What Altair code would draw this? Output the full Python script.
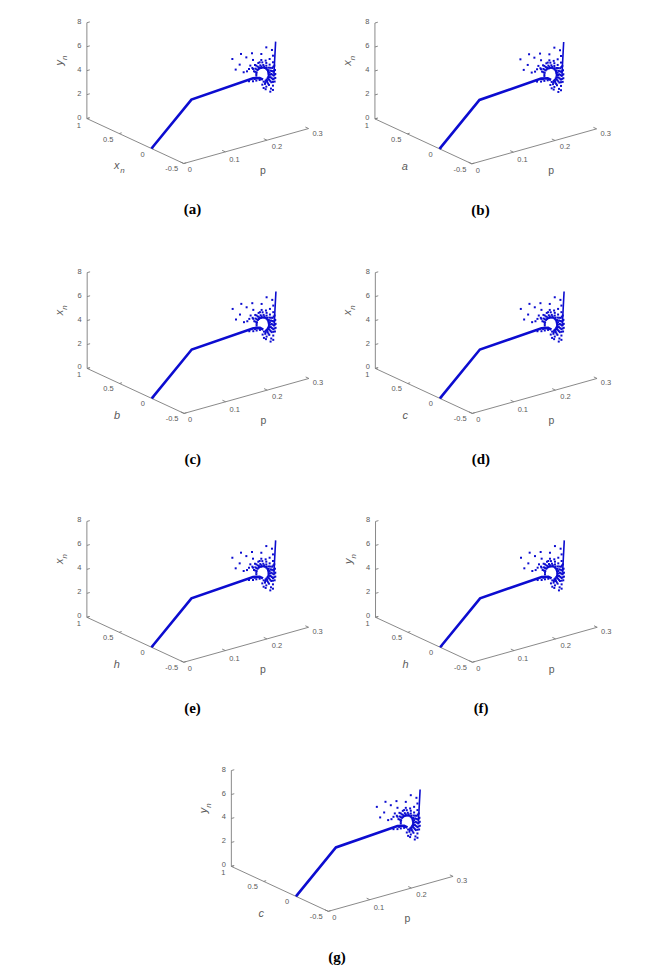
import altair as alt
import pandas as pd

# Trajectory and fixed-branch values (x-axis value 0)
TRAJ_P = [0.0, 0.096, 0.244, 0.26, 0.268]
TRAJ_Y = [0.0, 3.15, 3.49, 3.36, 3.14]
BRANCH_P = [0.2984, 0.296, 0.2944]
BRANCH_Y = [6.02, 4.46, 3.36]

DOT_P = [0.1944, 0.2152, 0.2416, 0.276, 0.2896, 0.212, 0.2024, 0.228, 0.264, 0.244, 0.2376, 0.2216, 0.2296,
         0.264, 0.284, 0.26, 0.252, 0.2744, 0.292, 0.2344, 0.244,
         0.252, 0.252, 0.2528, 0.2552, 0.2576, 0.26, 0.2632, 0.2664, 0.2696, 0.2728, 0.276, 0.2784, 0.28,
         0.2808, 0.2816, 0.2816, 0.2808, 0.2792, 0.2768, 0.2744, 0.2696,
         0.2464, 0.2496, 0.2552, 0.2616, 0.2688, 0.276, 0.2824, 0.2864, 0.288, 0.2864, 0.2832, 0.2784, 0.2728,
         0.2424, 0.2488, 0.2568, 0.2664, 0.276, 0.284, 0.2904, 0.2928, 0.2936, 0.292, 0.288, 0.2824, 0.276,
         0.292, 0.2952, 0.2968, 0.2976, 0.2976, 0.296, 0.292, 0.2872, 0.292, 0.2856, 0.2744, 0.2696, 0.2664,
         0.244, 0.252, 0.26, 0.248, 0.2344,
         0.2496, 0.2524, 0.2584, 0.264, 0.2708, 0.2772, 0.2816, 0.284, 0.2848, 0.2836, 0.2812, 0.2776, 0.2736,
         0.2864, 0.2896, 0.2908, 0.2892, 0.2856, 0.2804,
         0.2928, 0.2948, 0.2956, 0.2948, 0.292]
DOT_Y = [5.58, 5.80, 5.60, 5.76, 5.41, 4.94, 4.62, 5.39, 5.32, 5.02, 4.61, 4.21, 4.21,
         4.82, 4.71, 4.67, 4.47, 4.67, 4.91, 4.36, 4.27,
         3.63, 3.77, 3.90, 4.07, 4.13, 4.17, 4.16, 4.16, 4.13, 4.07, 3.96, 3.85, 3.72,
         3.60, 3.48, 3.37, 3.24, 3.15, 3.06, 3.00, 2.96,
         4.05, 4.24, 4.35, 4.40, 4.36, 4.23, 4.00, 3.72, 3.42, 3.16, 2.97, 2.82, 2.74,
         4.37, 4.55, 4.64, 4.60, 4.46, 4.24, 3.90, 3.57, 3.23, 2.94, 2.73, 2.56, 2.48,
         4.36, 4.05, 3.67, 3.33, 3.00, 2.71, 2.41, 2.21, 2.05, 1.97, 2.28, 2.43, 2.74,
         3.24, 3.22, 3.19, 3.39, 3.33,
         3.97, 4.15, 4.26, 4.28, 4.21, 4.04, 3.80, 3.60, 3.39, 3.20, 3.06, 2.94, 2.87,
         3.95, 3.65, 3.33, 3.05, 2.85, 2.69,
         3.98, 3.62, 3.28, 2.97, 2.72]

Y_TICKS = [0, 2, 4, 6, 8]
X_TICKS = [1, 0.5, 0, -0.5]
P_TICKS = [0, 0.1, 0.2, 0.3]
X_TICK_TEXT = ["1", "0.5", "0", "-0.5"]
P_TICK_TEXT = ["0", "0.1", "0.2", "0.3"]

CAPTIONS = ["(a)", "(b)", "(c)", "(d)", "(e)", "(f)", "(g)"]
VERT_TITLES = ["y", "x", "x", "x", "x", "y", "y"]
DEPTH_TITLES = ["x", "a", "b", "c", "h", "h", "c"]
# position of the 3-D origin inside each panel
ORIGIN_U = [143.7, 110.2, 144.0, 110.6, 143.7, 110.8, 288.4]
ORIGIN_V = [140.0, 140.3, 140.3, 140.3, 139.5, 139.5, 139.0]

COL_W = 322
ROW_H = [250, 250, 250, 204]
BLUE = "#0c0cd0"
AXIS = "#7c7c7c"
TEXT = "#5a5a5a"


def proj(ou, ov, p, x, y):
    return (ou + 416.7 * p - 64.7 * x, ov - 116.7 * p - 30.0 * x - 12.0 * y)


def panel(n, w, h):
    ou, ov = ORIGIN_U[n], ORIGIN_V[n]
    U = alt.X("u:Q", scale=alt.Scale(domain=[0, w], nice=False, zero=False), axis=None)
    V = alt.Y("v:Q", scale=alt.Scale(domain=[h, 0], nice=False, zero=False), axis=None)

    def pts(triples, **extra):
        rows = []
        for i, (p, x, y) in enumerate(triples):
            u, v = proj(ou, ov, p, x, y)
            rows.append({"u": u, "v": v, "i": i, **extra})
        return rows

    seg = []
    seg += pts([(0, 1, 0), (0, 1, 8)], g="yaxis")
    seg += pts([(0, 1, 0), (0, -0.5, 0)], g="xaxis")
    seg += pts([(0, -0.5, 0), (0.3, -0.5, 0)], g="paxis")
    for t in Y_TICKS:
        seg += pts([(0, 1, t), (0.007, 1, t)], g=f"yt{t}")
    for t in X_TICKS:
        seg += pts([(0, t, 0), (0.006, t, 0)], g=f"xt{t}")
    for t in P_TICKS:
        seg += pts([(t, -0.5, 0), (t, -0.45, 0)], g=f"pt{t}")

    axes = alt.Chart(pd.DataFrame(seg)).mark_line(color=AXIS, strokeWidth=0.9).encode(
        x=U, y=V, detail="g:N", order="i:Q")

    traj = alt.Chart(pd.DataFrame(pts([(p, 0, y) for p, y in zip(TRAJ_P, TRAJ_Y)]))).mark_line(
        color=BLUE, strokeWidth=2.6).encode(x=U, y=V, order="i:Q")
    branch = alt.Chart(pd.DataFrame(pts([(p, 0, y) for p, y in zip(BRANCH_P, BRANCH_Y)]))).mark_line(
        color=BLUE, strokeWidth=1.6).encode(x=U, y=V, order="i:Q")
    dots = alt.Chart(pd.DataFrame(pts([(p, 0, y) for p, y in zip(DOT_P, DOT_Y)]))).mark_square(
        color=BLUE, size=4, opacity=1).encode(x=U, y=V)

    def label(p, x, y, text, ddx, ddy, size=7.5, color=TEXT, font="Liberation Sans", **kw):
        u, v = proj(ou, ov, p, x, y)
        df = pd.DataFrame([{"u": u, "v": v, "t": text}])
        return alt.Chart(df).mark_text(dx=ddx, dy=ddy, fontSize=size, color=color, font=font,
                                       align="center", baseline="middle", **kw).encode(
            x=U, y=V, text="t:N")

    layers = [axes, traj, branch, dots]
    for t in Y_TICKS:
        layers.append(label(0, 1, t, str(t), -7.5, -1))
    for t, s, d in zip(X_TICKS, X_TICK_TEXT, [(-8, 7), (-11, 6), (-9, 6), (-12, 6)]):
        layers.append(label(0, t, 0, s, d[0], d[1]))
    for t, s, d in zip(P_TICKS, P_TICK_TEXT, [(6, 7), (9, 8), (10, 7), (9, 5)]):
        layers.append(label(t, -0.5, 0, s, d[0], d[1]))

    layers.append(label(0.2, -0.5, 0, "p", -4, 31, size=10.5))
    layers.append(label(0, 0.25, 0, DEPTH_TITLES[n], -18.5, 25.5, size=11, fontStyle="italic"))
    if n == 0:
        layers.append(label(0, 0.25, 0, "n", -13, 30.5, size=8, fontStyle="italic"))
    # rotated text: dx runs along the text direction (up), dy across it (right)
    layers.append(label(0, 1, 4, VERT_TITLES[n], 8, -27, size=11, fontStyle="italic", angle=270))
    layers.append(label(0, 1, 4, "n", 13, -22, size=8, fontStyle="italic", angle=270))
    layers.append(label(0, -0.5, 0, CAPTIONS[n], 8.7, 46, size=15, color="#000000",
                        font="Liberation Serif", fontWeight="bold"))

    return alt.layer(*layers).properties(width=w, height=h)


rows = [
    alt.hconcat(panel(0, COL_W, ROW_H[0]), panel(1, COL_W, ROW_H[0]), spacing=0),
    alt.hconcat(panel(2, COL_W, ROW_H[1]), panel(3, COL_W, ROW_H[1]), spacing=0),
    alt.hconcat(panel(4, COL_W, ROW_H[2]), panel(5, COL_W, ROW_H[2]), spacing=0),
    panel(6, 2 * COL_W, ROW_H[3]),
]
chart = alt.vconcat(*rows, spacing=0).properties(padding=0).configure_view(stroke=None)
chart.save("out.html", embed_options={"renderer": "svg", "actions": False})
